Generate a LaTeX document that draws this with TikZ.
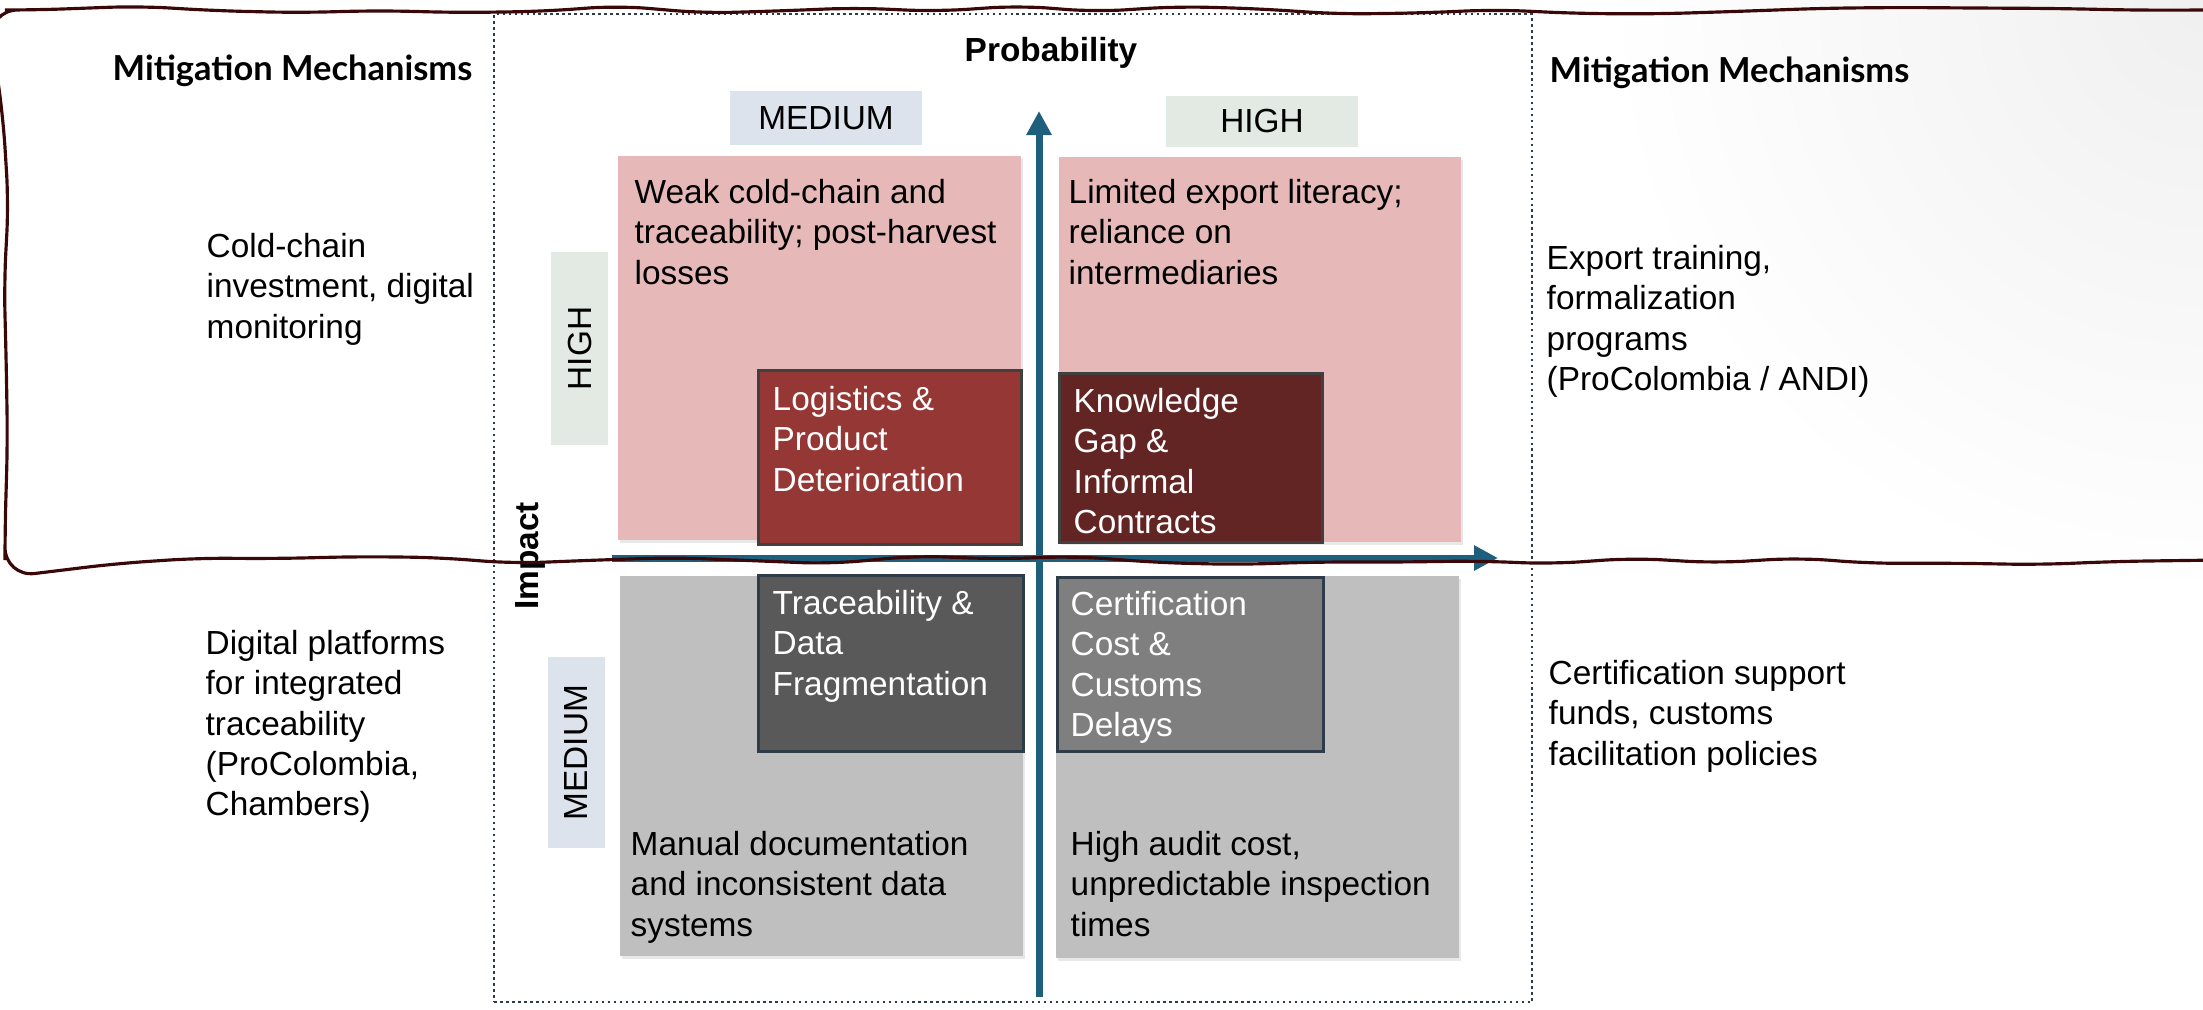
\documentclass[tikz,border=0pt]{standalone}
\usepackage{fontspec}
\setmainfont{Liberation Sans}
\newfontfamily\headfont{Lato}
\usetikzlibrary{arrows.meta,shadows,decorations.pathmorphing}

\definecolor{quadpink}{HTML}{E6B9B8}
\definecolor{quadgray}{HTML}{BFBFBF}
\definecolor{riskred}{HTML}{953735}
\definecolor{riskmaroon}{HTML}{632523}
\definecolor{riskdark}{HTML}{595959}
\definecolor{riskmid}{HTML}{7F7F7F}
\definecolor{axisblue}{HTML}{1F5F7E}
\definecolor{tagblue}{HTML}{DCE3EC}
\definecolor{taggreen}{HTML}{E2EAE3}
\definecolor{sketchline}{HTML}{3A0808}
\definecolor{framegray}{HTML}{2E3B48}

\tikzset{
    txt/.style = {inner sep=0pt, align=left, anchor=north west,
        font=\fontsize{9.5}{11.4}\selectfont},
    head/.style = {inner sep=0pt, anchor=north west,
        font=\headfont\bfseries\fontsize{9.8}{11.5}\selectfont},
    quad/.style = {anchor=north west, inner sep=0pt,
        drop shadow={shadow xshift=0.025cm, shadow yshift=-0.03cm, opacity=0.18}},
    riskbox/.style = {anchor=north west, inner sep=0pt, line width=0.8pt},
    tag/.style = {inner sep=0pt, font=\fontsize{9.5}{11.4}\selectfont},
    axis/.style = {axisblue, line width=2pt,
        -{Triangle[length=0.24cm,width=0.24cm]}}
}

\begin{document}
\begin{tikzpicture}
\useasboundingbox (0,0) rectangle (22.03,-10.09);

% faint corner shade
\begin{scope}
    \clip (0,0) rectangle (22.03,-10.09);
    \shade[inner color=black!6, outer color=white] (22.03,0) circle (6cm);
\end{scope}

% matrix frame
\node[draw=framegray, densely dotted, line width=0.7pt, anchor=north west,
    inner sep=0pt, minimum width=10.38cm, minimum height=9.88cm] (frame) at (4.93,-0.13) {};

% quadrants
\node[quad, fill=quadpink, minimum width=4.03cm, minimum height=3.84cm] (medhigh) at (6.17,-1.55) {};
\node[quad, fill=quadpink, minimum width=4.02cm, minimum height=3.85cm] (highhigh) at (10.58,-1.56) {};
\node[quad, fill=quadgray, minimum width=4.03cm, minimum height=3.80cm] (medmed) at (6.19,-5.75) {};
\node[quad, fill=quadgray, minimum width=4.03cm, minimum height=3.82cm] (highmed) at (10.55,-5.75) {};

\node[txt] (medhightxt) at (6.34,-1.79) {Weak cold-chain and\\traceability; post-harvest\\losses};
\node[txt] (highhightxt) at (10.68,-1.79) {Limited export literacy;\\reliance on\\intermediaries};
\node[txt] (medmedtxt) at (6.30,-8.31) {Manual documentation\\and inconsistent data\\systems};
\node[txt] (highmedtxt) at (10.70,-8.31) {High audit cost,\\unpredictable inspection\\times};

% risks
\node[riskbox, draw=black!75, fill=riskred, minimum width=2.63cm, minimum height=1.74cm] (logistics) at (7.57,-3.69) {};
\node[riskbox, draw=black!75, fill=riskmaroon, minimum width=2.63cm, minimum height=1.69cm] (knowledge) at (10.58,-3.72) {};
\node[riskbox, draw=framegray, fill=riskdark, minimum width=2.65cm, minimum height=1.76cm] (tracedata) at (7.57,-5.74) {};
\node[riskbox, draw=framegray, fill=riskmid, minimum width=2.66cm, minimum height=1.74cm] (certif) at (10.56,-5.76) {};

\node[txt, text=white] (logisticstxt) at (7.72,-3.86) {Logistics \&\\Product\\Deterioration};
\node[txt, text=white] (knowledgetxt) at (10.73,-3.88) {Knowledge\\Gap \&\\Informal\\Contracts};
\node[txt, text=white] (tracedatatxt) at (7.72,-5.90) {Traceability \&\\Data\\Fragmentation};
\node[txt, text=white] (certiftxt) at (10.70,-5.91) {Certification\\Cost \&\\Customs\\Delays};

% axes
\coordinate (vbot) at (10.39,-9.97);
\coordinate (vtop) at (10.39,-1.11);
\coordinate (hleft) at (6.12,-5.58);
\coordinate (hright) at (14.98,-5.58);
\draw[axis] (hleft) -- (hright);
\draw[axis] (vbot) -- (vtop);

\node[inner sep=0pt, anchor=north, font=\bfseries\fontsize{9.5}{11.4}\selectfont] (prob) at (10.51,-0.37) {Probability};
\node[inner sep=0pt, rotate=90, font=\bfseries\fontsize{9.5}{11.4}\selectfont] (impact) at (5.30,-5.56) {Impact};

% level tags
\node[tag, fill=tagblue, minimum width=1.92cm, minimum height=0.54cm] (probmed) at (8.26,-1.18) {MEDIUM};
\node[tag, fill=taggreen, minimum width=1.92cm, minimum height=0.51cm] (probhigh) at (12.62,-1.21) {HIGH};
\node[tag, fill=taggreen, rotate=90, minimum width=1.93cm, minimum height=0.57cm] (imphigh) at (5.795,-3.485) {HIGH};
\node[tag, fill=tagblue, rotate=90, minimum width=1.91cm, minimum height=0.57cm] (impmed) at (5.765,-7.525) {MEDIUM};

% mitigation columns
\node[head] (mitleft) at (1.12,-0.54) {Mitigation Mechanisms};
\node[head] (mitright) at (15.49,-0.56) {Mitigation Mechanisms};

\node[txt] (coldchain) at (2.06,-2.33) {Cold-chain\\investment, digital\\monitoring};
\node[txt] (training) at (15.46,-2.45) {Export training,\\formalization\\programs\\(ProColombia / ANDI)};
\node[txt] (platforms) at (2.05,-6.30) {Digital platforms\\for integrated\\traceability\\(ProColombia,\\Chambers)};
\node[txt] (support) at (15.48,-6.60) {Certification support\\funds, customs\\facilitation policies};

% sketched outline round the high row
\pgfmathsetseed{11}
\draw[sketchline, line width=0.9pt, decorate,
    decoration={random steps, segment length=0.8cm, amplitude=0.05cm},
    rounded corners=0.3cm]
    (22.2,-0.10) -- (0.05,-0.10) -- (0.05,-5.60) -- (22.2,-5.60);

\end{tikzpicture}
\end{document}
